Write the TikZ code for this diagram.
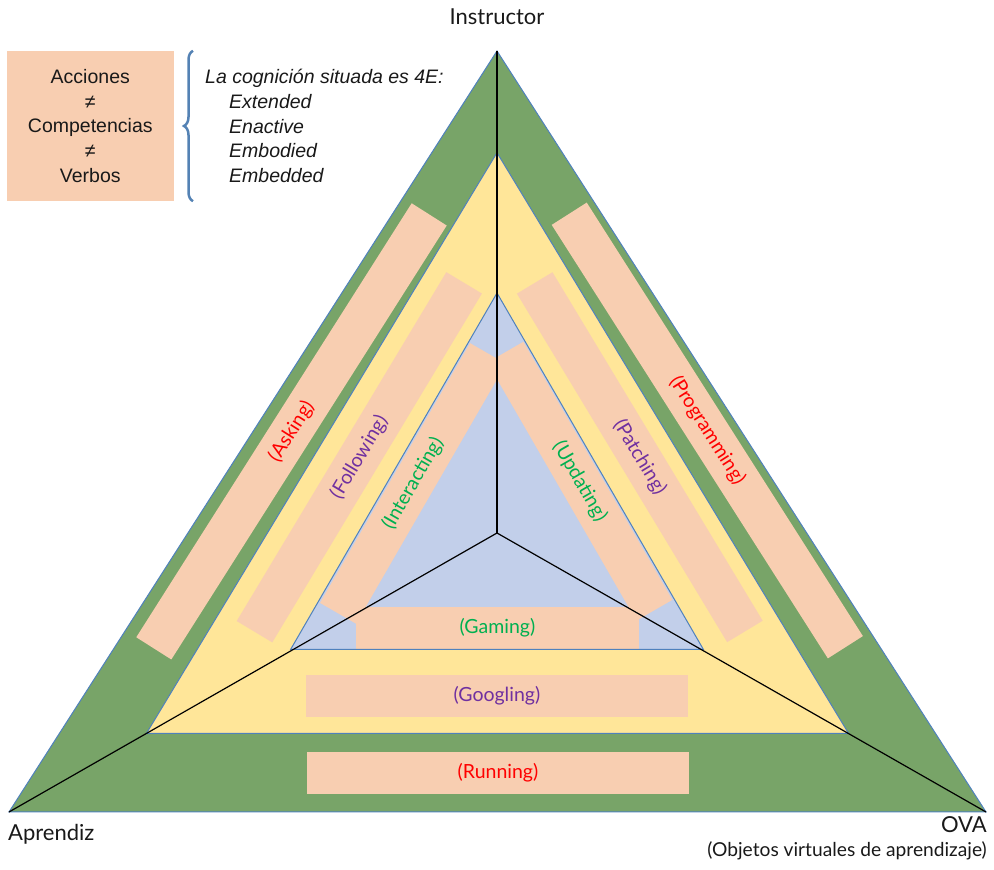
\documentclass[tikz,border=0pt]{standalone}
\usepackage{fontspec}
\setmainfont{Lato}
\newfontfamily\notefont{Liberation Sans}
\usepackage{xcolor}
\usetikzlibrary{positioning,decorations.pathreplacing}
\definecolor{bandgreen}{RGB}{120,164,104}
\definecolor{bandyellow}{RGB}{255,230,153}
\definecolor{bandpink}{RGB}{248,206,177}
\definecolor{bandblue}{RGB}{194,207,234}
\definecolor{edgeblue}{RGB}{79,129,189}
\definecolor{braceblue}{RGB}{84,130,180}
\definecolor{actred}{RGB}{255,0,0}
\definecolor{actpurple}{RGB}{112,48,160}
\definecolor{actgreen}{RGB}{0,176,80}

\begin{document}
\begin{tikzpicture}[
  x=1pt, y=1pt,
  tri/.style={draw=edgeblue, line width=1pt},
  act/.style={fill=bandpink, inner sep=0pt, minimum height=41.5pt, font=\fontsize{19.5}{22}\selectfont},
  lab/.style={inner sep=0pt, font=\fontsize{22}{26}\selectfont, text=black!90},
  note/.style={inner sep=0pt, font=\notefont\fontsize{19.5}{24.6}\selectfont, text=black!90},
  spoke/.style={line width=1.2pt}
]
  \useasboundingbox (0,0) rectangle (994,870);

  % corners of the three triangles
  \coordinate (ins) at (497,819);
  \coordinate (apr) at (9,58);
  \coordinate (ova) at (986,58);
  \coordinate (ytop) at (497,717.3);
  \coordinate (yleft) at (146.5,136.7);
  \coordinate (yright) at (848.5,136.7);
  \coordinate (btop) at (497,577);
  \coordinate (bleft) at (290.7,220.7);
  \coordinate (bright) at (703.3,220.7);
  \coordinate (ctr) at (497,337);

  \fill[bandgreen] (ins) -- (apr) -- (ova) -- cycle;
  \fill[bandyellow] (ytop) -- (yleft) -- (yright) -- cycle;
  \fill[bandblue] (btop) -- (bleft) -- (bright) -- cycle;

  % actions
  \node[act, minimum width=514pt, rotate=57.6, text=actred] (asking) at (291.5,438.6) {(Asking)};
  \node[act, minimum width=514pt, rotate=-57.5, text=actred] (programming) at (707.3,439.5) {(Programming)};
  \node[act, minimum width=382pt, text=actred] (running) at (498,97.2) {(Running)};
  \node[act, minimum width=407pt, rotate=59, text=actpurple] (following) at (359.3,412.7) {(Following)};
  \node[act, minimum width=407pt, rotate=-58.9, text=actpurple] (patching) at (639.8,412.8) {(Patching)};
  \node[act, minimum width=382pt, text=actpurple] (googling) at (496.9,174.2) {(Googling)};
  \node[act, minimum width=300pt, rotate=60, text=actgreen] (interacting) at (413,386.6) {(Interacting)};
  \node[act, minimum width=298pt, rotate=-60, text=actgreen] (updating) at (579.9,388.8) {(Updating)};
  \node[act, minimum width=283pt, minimum height=42.6pt, text=actgreen] (gaming) at (497.5,242) {(Gaming)};

  \draw[tri] (ins) -- (apr) -- (ova) -- cycle;
  \draw[tri] (ytop) -- (yleft) -- (yright) -- cycle;
  \draw[tri] (btop) -- (bleft) -- (bright) -- cycle;

  \draw[spoke] (ctr) -- (ins);
  \draw[spoke] (ctr) -- (apr);
  \draw[spoke] (ctr) -- (ova);

  % labels of the corners
  \node[lab, anchor=base] (instructor) at (497,845) {Instructor};
  \node[lab, anchor=base west] (aprendiz) at (8,29) {Aprendiz};
  \node[lab, anchor=base east] (ovalab) at (987,37) {OVA};
  \node[lab, font=\fontsize{19.2}{22}\selectfont, anchor=base east] (ovanote) at (987,13) {(Objetos virtuales de aprendizaje)};

  % box and brace
  \node[note, fill=bandpink, align=center, minimum width=167pt, minimum height=150pt] (acciones) at (90.3,744)
    {Acciones\\≠\\Competencias\\≠\\Verbos};
  \draw[braceblue, line width=2.5pt, decorate, decoration={brace, amplitude=9pt}]
    ([xshift=19pt]acciones.south east) -- ([xshift=19pt]acciones.north east);
  \node[note, font=\notefont\itshape\fontsize{19.5}{24.6}\selectfont, align=left, right=31pt of acciones] (cuatroE)
    {La cognición situada es 4E:\\\hspace*{24pt}Extended\\\hspace*{24pt}Enactive\\\hspace*{24pt}Embodied\\\hspace*{24pt}Embedded};
\end{tikzpicture}
\end{document}
